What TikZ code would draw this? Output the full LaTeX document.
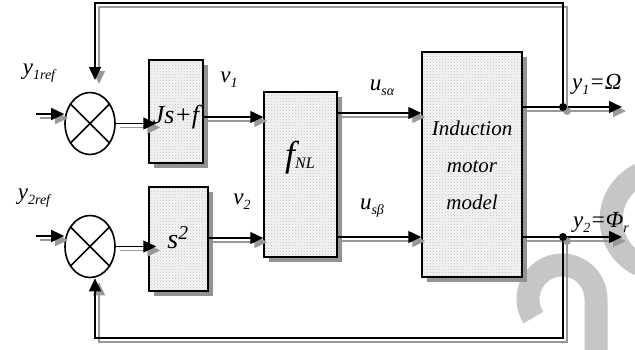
\documentclass[tikz,border=0pt]{standalone}
\usepackage{fontspec}
\setmainfont{Liberation Serif}
\usetikzlibrary{shapes.geometric,arrows.meta,shadows,patterns,calc}
\newcommand\lsub[1]{\raisebox{-0.22em}{\fontsize{14}{14}\selectfont #1}}
\newcommand\sconn[2][]{\draw[#1,shd] #2; \draw[#1] #2;}
\begin{document}
\begin{tikzpicture}[x=1pt,y=-1pt,
  blk/.style={draw, line width=1.5pt, rectangle, inner sep=0pt,
    drop shadow={shadow xshift=5pt,shadow yshift=-5pt,fill=gray!85,opacity=1},
    preaction={fill=gray!8}, pattern=crosshatch dots, pattern color=gray!50},
  sumn/.style={draw, ellipse, line width=1.6pt, minimum width=50pt, minimum height=62pt, inner sep=0pt},
  lbl/.style={font=\fontsize{23}{25}\selectfont\itshape, inner sep=0pt},
  ar/.style={line width=1.4pt, -{Triangle[length=13pt,width=12pt]}},
  shd/.style={draw=gray!80, transform canvas={shift={(4pt,-4pt)}}},
  wm/.style={draw=gray!45, line width=23pt},
]
\useasboundingbox (0,0) rectangle (635,349);
\begin{scope}
\clip (0,0) rectangle (635,349);
\draw[wm] (533.5,317.5) arc[start angle=147, end angle=360, radius=34] -- (596,365);
\draw[wm] (640,265) arc[start angle=115, end angle=245, radius=50];
\end{scope}

% row coordinates
\coordinate (r1v) at (0,117);
\coordinate (r1u) at (0,113);
\coordinate (r2v) at (0,238);
\coordinate (r2u) at (0,237);
\coordinate (i1) at (36,114);
\coordinate (i2) at (36,236);
\coordinate (o1) at (622,107);
\coordinate (o2) at (622,237);
\coordinate (j1) at (563,107);
\coordinate (j2) at (563,237);
\coordinate (c1) at (563,3);
\coordinate (c2) at (95,3);
\coordinate (f1) at (95,80);
\coordinate (c3) at (563,338);
\coordinate (c4) at (95,338);

% summing junctions
\node[sumn] (s1) at (90,123.5) {};
\draw[line width=1.6pt] (s1.45) -- (s1.225) (s1.135) -- (s1.315);
\node[sumn] (s2) at (90,246.5) {};
\draw[line width=1.6pt] (s2.45) -- (s2.225) (s2.135) -- (s2.315);

% blocks
\node[blk, minimum width=54pt, minimum height=103pt] (b1) at (176,111.5) {};
\node[lbl, font=\fontsize{26}{26}\selectfont\itshape] (t1) at (176,117) {Js+f};
\node[blk, minimum width=59pt, minimum height=104pt] (b2) at (178.5,239) {};
\node[lbl, font=\fontsize{28}{28}\selectfont\itshape] (t2) at (178,238) {s\textsuperscript{2}};
\node[blk, minimum width=73pt, minimum height=165pt] (fnl) at (300.5,174.5) {};
\node[lbl] (t3) at (300,158) {{\fontsize{36}{36}\selectfont f}\raisebox{-2pt}{\fontsize{16}{16}\selectfont NL}};
\node[blk, minimum width=100pt, minimum height=225pt] (im) at (472,164.5) {};
\node[lbl, align=center, font=\fontsize{21}{37}\selectfont\itshape] (t4) at (472,165) {Induction\\motor\\model};

% connectors row 1
\sconn[ar]{(i1) -- (i1 -| s1.west)}
\sconn[ar, shorten >=-8pt]{(s1.east) -- (s1.east -| b1.west)}
\sconn[ar]{(b1.east |- r1v) -- (fnl.west |- r1v)}
\sconn[ar]{(fnl.east |- r1u) -- (im.west |- r1u)}
\sconn[ar]{(im.east |- o1) -- (o1)}
\sconn[ar]{(j1) -- (c1) -- (c2) -- (f1)}
% connectors row 2
\sconn[ar]{(i2) -- (i2 -| s2.west)}
\sconn[ar, shorten >=-8pt]{(s2.east) -- (s2.east -| b2.west)}
\sconn[ar]{(b2.east |- r2v) -- (fnl.west |- r2v)}
\sconn[ar]{(fnl.east |- r2u) -- (im.west |- r2u)}
\sconn[ar]{(im.east |- o2) -- (o2)}
\sconn[ar]{(j2) -- (c3) -- (c4) -- (c4 |- s2.south)}
% junction dots
\fill[gray!80] ($(j1)+(4,4)$) circle (4pt);
\fill (j1) circle (4pt);
\fill[gray!80] ($(j2)+(4,4)$) circle (4pt);
\fill (j2) circle (4pt);

% labels
\node[lbl] (ly1r) at (39,73) {y\lsub{1ref}};
\node[lbl] (ly2r) at (34,198) {y\lsub{2ref}};
\node[lbl] (lv1) at (229,80) {v\lsub{1}};
\node[lbl] (lv2) at (242,202) {v\lsub{2}};
\node[lbl] (lua) at (382,88) {u\lsub{sα}};
\node[lbl] (lub) at (372,208) {u\lsub{sβ}};
\node[lbl, anchor=west] (ly1) at (572,84) {y\lsub{1}=Ω};
\node[lbl, anchor=west] (ly2) at (573,222) {y\lsub{2}=Φ\lsub{r}};
\end{tikzpicture}
\end{document}
